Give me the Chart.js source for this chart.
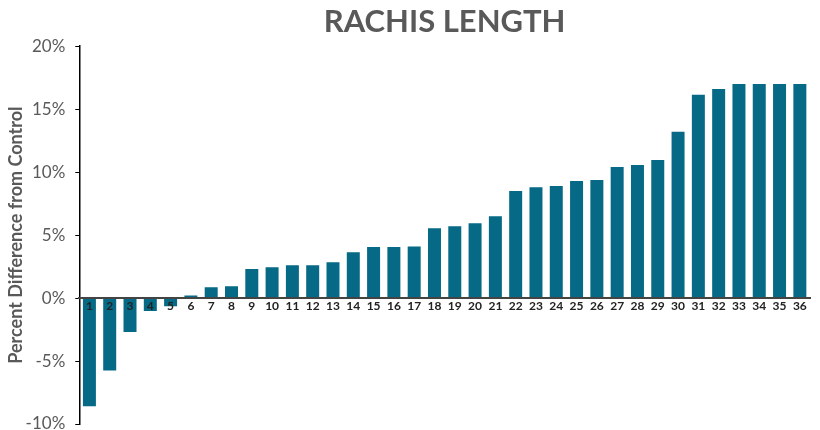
<!DOCTYPE html>
<html>
<head>
<meta charset="utf-8">
<title>Rachis Length</title>
<script src="https://cdn.jsdelivr.net/npm/chart.js@4.4.1/dist/chart.umd.min.js"></script>
<style>
  html, body { margin:0; padding:0; background:#fff; }
  #wrap { width:820px; height:430px; }
</style>
</head>
<body>
<div id="wrap"><canvas id="ch" width="820" height="430"></canvas></div>
<script>
// data
const CATEGORIES = ['1','2','3','4','5','6','7','8','9','10','11','12','13','14','15','16','17','18',
  '19','20','21','22','23','24','25','26','27','28','29','30','31','32','33','34','35','36'];
const PCT_DIFF = [-8.6, -5.75, -2.7, -1.03, -0.64, 0.2, 0.85, 0.93, 2.3, 2.45, 2.6, 2.6,
  2.85, 3.64, 4.05, 4.05, 4.1, 5.55, 5.7, 5.95, 6.5, 8.5, 8.8, 8.9,
  9.3, 9.38, 10.4, 10.57, 10.97, 13.2, 16.15, 16.6, 17.0, 17.0, 17.0, 17.0];
const Y_TICKS = [-10, -5, 0, 5, 10, 15, 20];

const TEAL = '#066985', GREY = '#595959';

new Chart(document.getElementById('ch'), {
  type: 'bar',
  data: { labels: CATEGORIES, datasets: [{ label:'Rachis length', data: PCT_DIFF,
    backgroundColor: TEAL, barPercentage: 0.64, categoryPercentage: 1 }] },
  options: {
    responsive: false, animation: false,
    layout: { padding: { top: 1, left: 5, right: 10, bottom: 6 } },
    plugins: {
      legend: { display: false },
      tooltip: { enabled: false },
      title: { display: true, text: 'RACHIS LENGTH', color: GREY, fullSize: false,
        font: { family: 'Lato', size: 31, weight: 'bold' }, padding: { top: 2, bottom: 6 } }
    },
    scales: {
      x: {
        position: { y: 0 },
        grid: { display: false, drawTicks: false },
        border: { display: true, color: '#444', width: 2, z: 1 },
        // z 1 -> numbers drawn on top of the negative bars
        ticks: { z: 1, color: '#222', padding: 1, maxRotation: 0, autoSkip: false,
          font: { family: 'Lato', size: 12, weight: 'bold' } }
      },
      y: {
        min: -10, max: 20,
        afterBuildTicks: (s) => { s.ticks = Y_TICKS.map(v => ({ value: v })); },
        afterFit: (s) => { s.paddingBottom = 0; },
        grid: { drawOnChartArea: false, drawTicks: true, tickLength: 4, color: '#000' },
        border: { display: true, color: '#000', width: 1.5 },
        ticks: { color: GREY, padding: 10, callback: v => v + '%',
          font: { family: 'Lato', size: 17 } },
        title: { display: true, text: 'Percent Difference from Control', color: GREY,
          font: { family: 'Lato', size: 18, weight: 'bold' }, padding: { top: 0, bottom: -11 } }
      }
    }
  }
});
</script>
</body>
</html>
